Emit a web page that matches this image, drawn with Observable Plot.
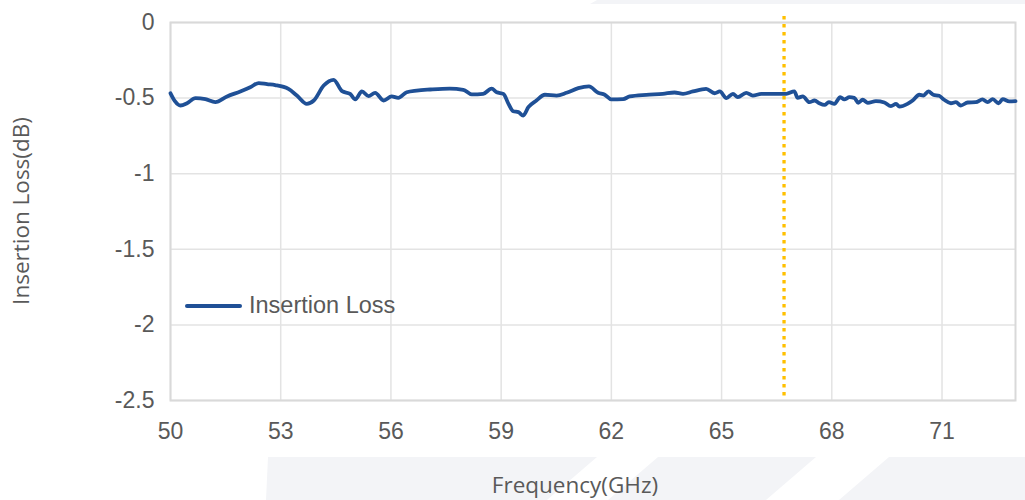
<!DOCTYPE html>
<html>
<head>
<meta charset="utf-8">
<script src="https://cdn.jsdelivr.net/npm/d3@7"></script>
<script src="https://cdn.jsdelivr.net/npm/@observablehq/plot@0.6"></script>
<style>
  html, body { margin: 0; padding: 0; background: #ffffff; }
  #wrap { position: relative; width: 1025px; height: 500px; overflow: hidden; }
  #bg { position: absolute; left: 0; top: 0; z-index: 0; }
  #chart { position: absolute; left: 0; top: 0; z-index: 1; }
  .title { position: absolute; z-index: 2; font-family: "Open Sans", "Liberation Sans", Arial, sans-serif; font-size: 22.5px; color: #595959; white-space: nowrap; }
  #xtitle { left: 575px; top: 484px; transform: translate(-50%, -50%); }
  #ytitle { left: 20px; top: 211px; transform: translate(-50%, -50%) rotate(-90deg); }
  #legend { position: absolute; z-index: 2; left: 185px; top: 292px; display: flex; align-items: center; font-family: "Liberation Sans", Arial, sans-serif; font-size: 23.5px; color: #595959; white-space: nowrap; }
  #legend .sw { width: 57px; height: 4px; border-radius: 2px; background: #1f5096; margin-right: 7px; }
</style>
</head>
<body>
<div id="wrap">
  <svg id="bg" width="1025" height="500">
    <polygon points="590,4 597,0 1025,0 1025,4" fill="#f3f4f7"/>
    <polygon points="268,457 597,457 547,500 266,500" fill="#f3f4f7"/>
    <polygon points="658,457 816,457 766,500 608,500" fill="#f3f4f7"/>
    <polygon points="889,457 1025,457 1025,500 839,500" fill="#f3f4f7"/>
  </svg>
  <div id="chart"></div>
  <div class="title" id="xtitle">Frequency(GHz)</div>
  <div class="title" id="ytitle">Insertion Loss(dB)</div>
  <div id="legend"><div class="sw"></div><span>Insertion Loss</span></div>
</div>
<script>
// Data
const frequency = [50.00,50.12,50.27,50.45,50.68,50.95,51.22,51.54,51.90,52.17,52.40,52.63,52.85,53.21,53.44,53.71,53.90,54.17,54.44,54.67,54.89,55.03,55.21,55.39,55.57,55.80,56.02,56.20,56.43,56.70,57.07,57.60,57.97,58.20,58.51,58.74,58.88,59.06,59.20,59.33,59.47,59.60,59.74,59.96,60.19,60.51,60.78,61.10,61.39,61.64,61.82,62.00,62.32,62.50,62.95,63.40,63.72,63.95,64.22,64.58,64.81,64.95,65.13,65.31,65.44,65.67,65.85,66.08,66.40,66.76,66.98,67.07,67.21,67.39,67.53,67.66,67.80,67.92,68.07,68.23,68.34,68.48,68.61,68.72,68.84,68.98,69.20,69.43,69.61,69.75,69.84,70.06,70.20,70.38,70.49,70.63,70.76,70.92,71.06,71.24,71.38,71.51,71.70,71.92,72.10,72.24,72.38,72.54,72.65,72.83,73.00];
const insertionLoss = [-0.468,-0.520,-0.549,-0.534,-0.500,-0.507,-0.527,-0.489,-0.456,-0.428,-0.401,-0.408,-0.414,-0.439,-0.483,-0.538,-0.516,-0.417,-0.379,-0.454,-0.472,-0.509,-0.456,-0.487,-0.466,-0.516,-0.489,-0.498,-0.461,-0.450,-0.443,-0.437,-0.445,-0.476,-0.472,-0.437,-0.461,-0.472,-0.538,-0.587,-0.593,-0.615,-0.560,-0.516,-0.478,-0.483,-0.465,-0.434,-0.423,-0.465,-0.478,-0.509,-0.507,-0.489,-0.478,-0.472,-0.463,-0.472,-0.456,-0.439,-0.468,-0.456,-0.500,-0.472,-0.494,-0.465,-0.483,-0.472,-0.472,-0.472,-0.455,-0.498,-0.489,-0.527,-0.516,-0.534,-0.545,-0.527,-0.538,-0.494,-0.509,-0.494,-0.498,-0.531,-0.511,-0.531,-0.520,-0.529,-0.553,-0.538,-0.556,-0.538,-0.516,-0.478,-0.483,-0.456,-0.478,-0.485,-0.511,-0.534,-0.527,-0.549,-0.529,-0.527,-0.509,-0.527,-0.507,-0.534,-0.507,-0.522,-0.520];
const xTicks = [50, 53, 56, 59, 62, 65, 68, 71];
const yTicks = [0, -0.5, -1, -1.5, -2, -2.5];
const xDomain = [50, 73];
const yDomain = [-2.5, 0];
const markerFrequency = 66.7;
const markerSpan = [0.04, -2.47];

const series = frequency.map((f, i) => ({f, loss: insertionLoss[i]}));
const marker = [{f: markerFrequency, top: markerSpan[0], bottom: markerSpan[1]}];

const chart = Plot.plot({
  width: 1025,
  height: 500,
  marginLeft: 170,
  marginRight: 10,
  marginTop: 22,
  marginBottom: 100,
  style: {fontFamily: '"Liberation Sans", Arial, sans-serif', fontSize: "23px", color: "#595959", background: "transparent", overflow: "visible"},
  x: {domain: xDomain},
  y: {domain: yDomain},
  marks: [
    Plot.gridX(xTicks, {stroke: "#e3e3e3", strokeOpacity: 1, strokeWidth: 1.5}),
    Plot.gridY(yTicks, {stroke: "#e3e3e3", strokeOpacity: 1, strokeWidth: 1.5}),
    Plot.frame({stroke: "#d9d9d9", strokeWidth: 2}),
    Plot.axisX(xTicks, {tickSize: 0, tickPadding: 22, label: null, tickFormat: d => String(d), fontSize: 23}),
    Plot.axisY(yTicks, {tickSize: 0, tickPadding: 16, label: null, tickFormat: d => String(d), fontSize: 23}),
    Plot.line(series, {x: "f", y: "loss", stroke: "#1f5096", strokeWidth: 3.8, curve: "monotone-x", strokeLinejoin: "round", strokeLinecap: "round"}),
    Plot.ruleX(marker, {x: "f", y1: "top", y2: "bottom", stroke: "#FFC000", strokeWidth: 3.3, strokeDasharray: "3.6,4.4"})
  ]
});
document.getElementById("chart").appendChild(chart);
</script>
</body>
</html>
